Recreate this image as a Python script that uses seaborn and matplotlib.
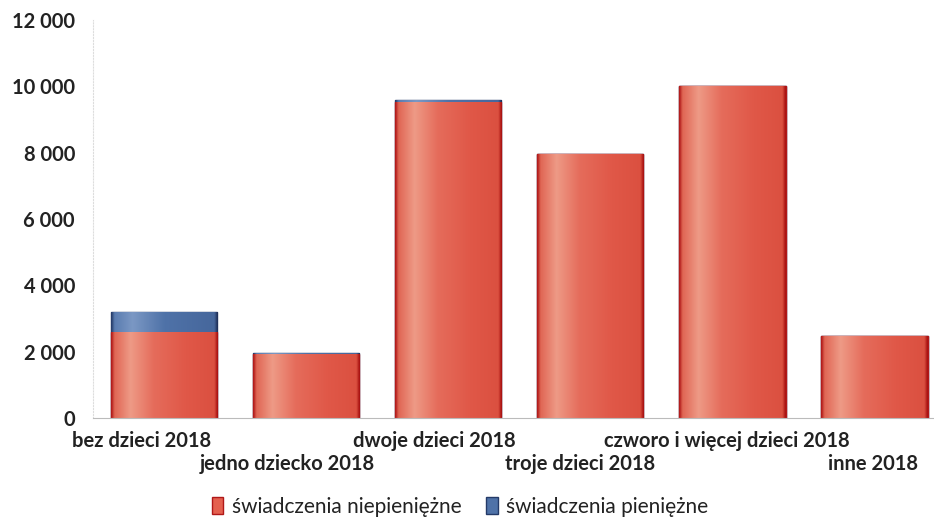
import matplotlib
matplotlib.use("Agg")
import matplotlib.pyplot as plt
import matplotlib.patches as mpatches
from matplotlib.colors import LinearSegmentedColormap
import numpy as np
import pandas as pd
import seaborn as sns

categories = ["bez dzieci 2018", "jedno dziecko 2018", "dwoje dzieci 2018",
              "troje dzieci 2018", "czworo i więcej dzieci 2018", "inne 2018"]
niepieniezne = [2580, 1930, 9540, 7950, 10000, 2460]
pieniezne = [620, 20, 40, 0, 0, 0]
yticks = [0, 2000, 4000, 6000, 8000, 10000, 12000]

RED = "#e4604f"
RED_EDGE = "#b01818"
BLUE = "#4f72a8"
BLUE_EDGE = "#243a68"
TEXT = "#222222"

red_cmap = LinearSegmentedColormap.from_list("red", [
    (0.0, "#b01818"), (0.03, "#e06654"), (0.18, "#ee9a86"), (0.4, "#e56c5b"),
    (0.7, "#e05848"), (0.97, "#db5040"), (1.0, "#a81010")])
blue_cmap = LinearSegmentedColormap.from_list("blue", [
    (0.0, "#243a68"), (0.03, "#5a7cb0"), (0.2, "#7b98c4"), (0.5, "#4f72a8"),
    (0.97, "#46679c"), (1.0, "#1e2f58")])

sns.set_style("white")
plt.rcParams["font.family"] = ["Lato", "DejaVu Sans"]

df = pd.DataFrame({"kategoria": categories,
                   "niepieniezne": niepieniezne,
                   "pieniezne": pieniezne})
df["razem"] = df["niepieniezne"] + df["pieniezne"]

fig = plt.figure(figsize=(9.34, 5.24), dpi=100)
ax = fig.add_axes([93 / 934, 106 / 524, 1 - 93 / 934, 398 / 524])

# stacked: total in blue first, red on top of it
sns.barplot(data=df, x="kategoria", y="razem", color=BLUE, width=0.75,
            edgecolor=BLUE_EDGE, linewidth=1.0, saturation=1, ax=ax)
n_blue = len(ax.patches)
sns.barplot(data=df, x="kategoria", y="niepieniezne", color=RED, width=0.75,
            edgecolor=RED_EDGE, linewidth=1.0, saturation=1, ax=ax)

# shaded fill like the printed original
grad = np.linspace(0, 1, 200).reshape(1, -1)
for k, p in enumerate(ax.patches):
    h = p.get_height()
    if h <= 0:
        continue
    x0, w = p.get_x(), p.get_width()
    cmap = blue_cmap if k < n_blue else red_cmap
    im = ax.imshow(grad, cmap=cmap, aspect="auto", extent=[x0, x0 + w, 0, h],
                   origin="lower", zorder=p.get_zorder(), interpolation="bilinear")
    im.set_clip_path(p)

ax.set_xlim(-0.5, 5.42)
ax.set_ylim(0, 12000)
ax.set_xlabel("")
ax.set_ylabel("")
ax.set_yticks(yticks)
ax.set_yticklabels([f"{v:,}".replace(",", " ") for v in yticks],
                   fontsize=14.5, fontweight="bold", color=TEXT)
# labels sit a little left of the bars in the original
ax.set_xticks([i * 1.03 - 0.16 for i in range(len(categories))])
ax.set_xticklabels(categories, fontsize=14.5, fontweight="bold", color=TEXT)
ax.tick_params(axis="both", length=0)
ax.tick_params(axis="x", pad=9.5)
ax.tick_params(axis="y", pad=13)
# staggered category labels
for i, t in enumerate(ax.xaxis.get_major_ticks()):
    if i % 2 == 1:
        t.set_pad(26)

for s in ["top", "right"]:
    ax.spines[s].set_visible(False)
ax.spines["left"].set_color("#dddddd")
ax.spines["left"].set_linestyle(":")
ax.spines["bottom"].set_color("#bbbbbb")
ax.spines["bottom"].set_linewidth(0.8)

handles = [mpatches.Patch(facecolor=RED, edgecolor=RED_EDGE, label="świadczenia niepieniężne"),
           mpatches.Patch(facecolor=BLUE, edgecolor=BLUE_EDGE, label="świadczenia pieniężne")]
fig.legend(handles=handles, loc="center", bbox_to_anchor=(460 / 934, 1 - 507 / 524),
           ncol=2, frameon=False, fontsize=15, handlelength=0.55, handleheight=0.9,
           handletextpad=0.4, columnspacing=1.2, labelcolor=TEXT)

fig.savefig("out.png", dpi=100)
